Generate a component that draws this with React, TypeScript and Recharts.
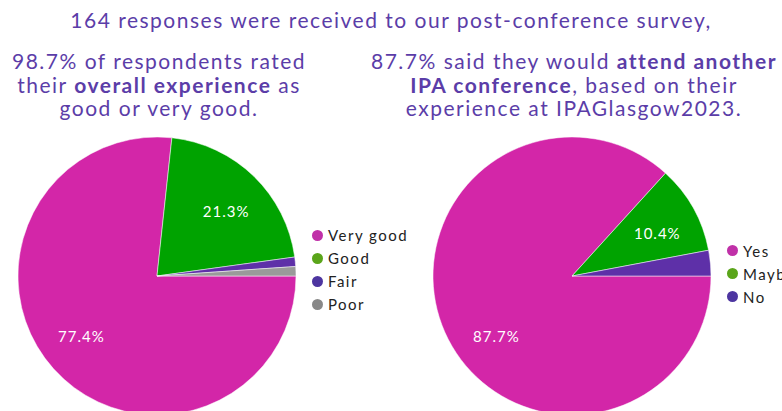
import { PieChart, Pie, Cell, Legend } from "recharts";

// values (percent of 164 responses)
const experienceNames = ["Very good", "Good", "Fair", "Poor"];
const experienceValues = [77.4, 21.3, 1.1, 1.1];

const attendNames = ["Yes", "Maybe", "No"];
const attendValues = [87.7, 10.4, 3.0];

const sliceColors = ["#d326a8", "#00a300", "#5e30a8", "#9a9a9a"];
const dotColors = ["#c030a8", "#5aa51a", "#4d35a0", "#888888"];

const PURPLE = "#5b3da8";
const FONT = "Lato, 'Open Sans', sans-serif";
const RAD = Math.PI / 180;

const experienceData = experienceNames.map((name, i) => ({ name, value: experienceValues[i] }));
const attendData = attendNames.map((name, i) => ({ name, value: attendValues[i] }));

function SliceLabel(props: any) {
  const { cx, cy, midAngle, outerRadius, percent, value } = props;
  if (percent < 0.05) return null;
  // google-style placement: big slice label sits lower-left
  const angle = percent > 0.5 ? 218 : midAngle - 2;
  const r = outerRadius * 0.69;
  const x = cx + r * Math.cos(-angle * RAD);
  const y = cy + r * Math.sin(-angle * RAD) + 1;
  return (
    <text x={x} y={y} fill="#fff" fontSize={15} fontFamily={FONT} letterSpacing={1} textAnchor="middle" dominantBaseline="central">
      {value.toFixed(1)}%
    </text>
  );
}

function DotLegend({ names }: { names: string[] }) {
  return (
    <div style={{ fontFamily: FONT, fontSize: 15, letterSpacing: 1.5, color: "#222" }}>
      {names.map((n, i) => (
        <div key={n} style={{ display: "flex", alignItems: "center", height: 23, whiteSpace: "nowrap" }}>
          <span style={{ width: 11, height: 11, borderRadius: "50%", background: dotColors[i], marginRight: 5, flex: "none" }} />
          {n}
        </div>
      ))}
    </div>
  );
}

const noMargin = { top: 0, right: 0, bottom: 0, left: 0 };

export default function App() {
  const head: React.CSSProperties = { position: "absolute", color: PURPLE, fontFamily: FONT, textAlign: "center", letterSpacing: 1.5, whiteSpace: "nowrap" };
  return (
    <div style={{ position: "fixed", left: 0, top: 0, width: 782, height: 411, overflow: "hidden", background: "#fff" }}>
      <div style={{ ...head, left: 0, width: 782, top: 6, fontSize: 21, lineHeight: "28px" }}>
        164 responses were received to our post-conference survey,
      </div>
      <div style={{ ...head, left: 0, width: 318, top: 49, fontSize: 21, lineHeight: "23.7px" }}>
        98.7% of respondents rated
        <br />
        their <b>overall experience</b> as
        <br />
        good or very good.
      </div>
      <div style={{ ...head, left: 364, width: 420, top: 49, fontSize: 21, lineHeight: "23.7px" }}>
        87.7% said they would <b>attend another</b>
        <br />
        <b>IPA conference</b>, based on their
        <br />
        experience at IPAGlasgow2023.
      </div>

      <div style={{ position: "absolute", left: 0, top: 130 }}>
        <PieChart width={420} height={300} margin={noMargin}>
          <Pie data={experienceData} dataKey="value" nameKey="name" cx={157} cy={146} outerRadius={139} startAngle={0} endAngle={-360} stroke="#fff" strokeWidth={0.5} label={SliceLabel} labelLine={false} isAnimationActive={false}>
            {experienceData.map((d, i) => (
              <Cell key={d.name} fill={sliceColors[i]} />
            ))}
          </Pie>
          <Legend content={() => <DotLegend names={experienceNames} />} wrapperStyle={{ left: 312, top: 93.5, width: 110 }} />
        </PieChart>
      </div>

      <div style={{ position: "absolute", left: 415, top: 130 }}>
        <PieChart width={367} height={300} margin={noMargin}>
          <Pie data={attendData} dataKey="value" nameKey="name" cx={157} cy={146} outerRadius={139} startAngle={0} endAngle={-360} stroke="#fff" strokeWidth={0.5} label={SliceLabel} labelLine={false} isAnimationActive={false}>
            {attendData.map((d, i) => (
              <Cell key={d.name} fill={sliceColors[i]} />
            ))}
          </Pie>
          <Legend content={() => <DotLegend names={attendNames} />} wrapperStyle={{ left: 312, top: 109, width: 80 }} />
        </PieChart>
      </div>
    </div>
  );
}
